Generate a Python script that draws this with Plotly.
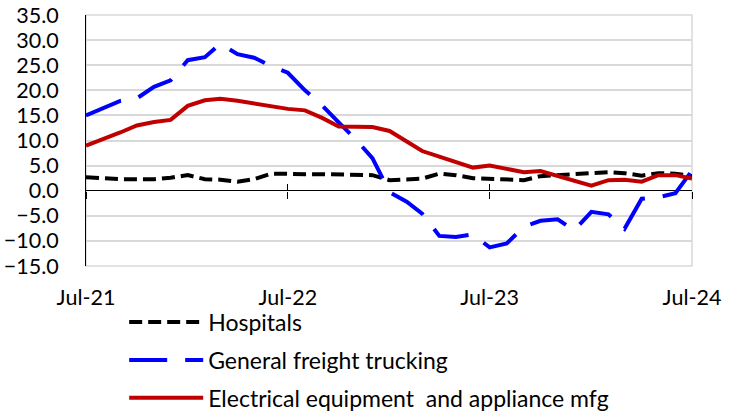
import plotly.graph_objects as go
import pandas as pd

months = [d.strftime("%Y-%m-%d") for d in pd.date_range("2021-07-01", "2024-07-01", freq="MS")]

hospitals = [2.7, 2.4, 2.3, 2.3, 2.3, 2.6, 3.1, 2.3, 2.2, 1.8, 2.3, 3.4, 3.3,
             3.3, 3.3, 3.2, 3.2, 3.1, 2.1, 2.3, 2.4, 3.4, 3.1, 2.5, 2.4,
             2.3, 2.1, 2.9, 3.1, 3.3, 3.6, 3.7, 3.5, 3.0, 3.5, 3.4, 2.9]

trucking = [15.0, 16.5, 17.9, 18.4, 20.7, 22.0, 26.0, 26.6, 29.3, 27.2, 26.5, 24.8, 23.5,
            20.0, 17.0, 13.6, 10.2, 6.5, -0.3, -2.2, -4.6, -9.0, -9.2, -8.7, -11.3,
            -10.5, -7.2, -6.0, -5.7, -7.9, -4.2, -4.7, -7.6, -1.6, -1.3, -0.5, 4.0]

electrical = [9.0, 10.2, 11.6, 13.0, 13.7, 14.1, 16.9, 18.0, 18.3, 17.9, 17.4, 17.0, 16.3,
              16.0, 14.5, 12.8, 12.7, 12.7, 11.9, 9.8, 7.9, 6.8, 5.7, 4.6, 5.0,
              4.3, 3.7, 3.9, 2.9, 1.9, 1.0, 2.1, 2.2, 1.8, 3.1, 3.1, 2.4]

series_names = ["Hospitals", "General freight trucking", "Electrical equipment  and appliance mfg"]

FONT = "Lato"
fig = go.Figure()
fig.add_trace(go.Scatter(x=months, y=hospitals, name=series_names[0], mode="lines",
                         legendgroup="a",
                         line=dict(color="#000000", width=4, dash="13px,6px")))
fig.add_trace(go.Scatter(x=months, y=trucking, name=series_names[1], mode="lines",
                         legendgroup="b",
                         line=dict(color="#0000ff", width=4, dash="38px,18px")))
fig.add_trace(go.Scatter(x=months, y=electrical, name=series_names[2], mode="lines",
                         legendgroup="c",
                         line=dict(color="#c00000", width=4)))

fig.update_layout(
    width=734, height=413,
    margin=dict(l=86, r=42, t=15, b=147, autoexpand=False),
    paper_bgcolor="white", plot_bgcolor="white",
    font=dict(family=FONT, size=21, color="#000000"),
    xaxis=dict(range=[months[0], months[-1]], dtick="M12", tick0=months[0],
               tickformat="%b-%y", showgrid=False, showline=False, zeroline=False,
               ticks="", ticklabelstandoff=16, tickfont=dict(size=21.5), automargin=False),
    yaxis=dict(range=[-15, 35], dtick=5, tickformat=".1f", showgrid=True,
               gridcolor="#d9d9d9", gridwidth=1.5, showline=True, linecolor="#000000",
               linewidth=1, zeroline=True, zerolinecolor="#000000", zerolinewidth=1.2,
               ticks="", ticklabelstandoff=22, tickfont=dict(size=21.5), automargin=False),
    xaxis2=dict(overlaying="x", matches="x", anchor="free", position=0.3,
                dtick="M12", tick0=months[0], ticks="outside", ticklen=7,
                tickcolor="#000000", showticklabels=False, showgrid=False,
                zeroline=False, showline=False, automargin=False),
    xaxis3=dict(overlaying="x", matches="x", anchor="free", position=0.3,
                dtick="M12", tick0=months[0], ticks="inside", ticklen=7,
                tickcolor="#000000", showticklabels=False, showgrid=False,
                zeroline=False, showline=False, automargin=False),
    legend=dict(orientation="v", x=0.063, xanchor="left", y=-0.612, yanchor="bottom",
                traceorder="grouped", tracegroupgap=5, itemwidth=74,
                font=dict(size=23), bgcolor="rgba(0,0,0,0)"),
    shapes=[dict(type="rect", xref="paper", yref="paper", x0=0, x1=1, y0=0, y1=1,
                 line=dict(color="#d9d9d9", width=1.5), layer="below")],
)

# invisible anchors for the tick-mark axes
for ax in ["x2", "x3"]:
    fig.add_trace(go.Scatter(x=[months[0], months[-1]], y=[None, None], xaxis=ax,
                             showlegend=False, hoverinfo="skip"))

fig.write_html("out.html", config={"displayModeBar": False},
               post_script="document.body.style.margin='0';")
